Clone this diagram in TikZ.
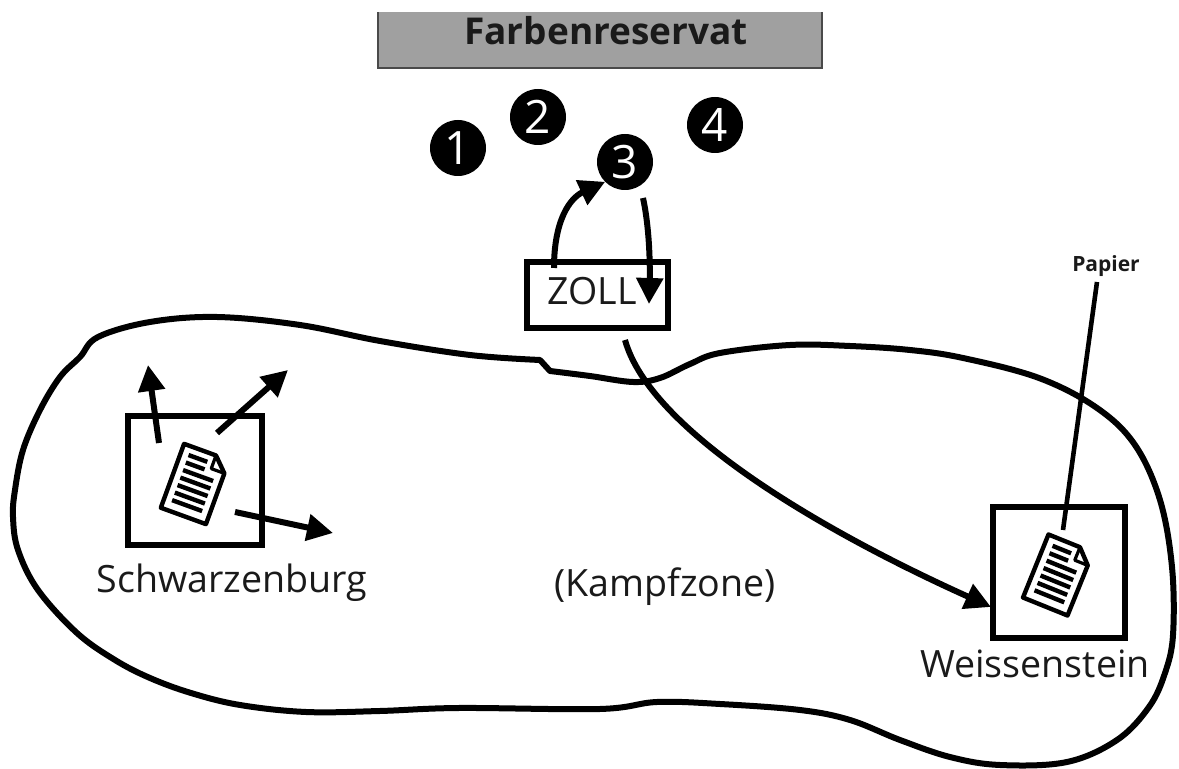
\documentclass[tikz,border=0pt]{standalone}
\usepackage{fontspec}
\setmainfont{Open Sans}
\usetikzlibrary{arrows.meta}
\definecolor{titlegray}{HTML}{A0A0A0}
\definecolor{titleedge}{HTML}{4A4A4A}
\definecolor{inktext}{HTML}{1A1A1A}
\begin{document}
\begin{tikzpicture}[x=0.5pt,y=-0.5pt,
  blob/.style={line width=3pt, line join=round, line cap=round},
  arr/.style={line width=3pt, -{Triangle[length=13pt,width=13pt]}},
  town/.style={draw, line width=3.2pt, inner sep=0pt, outer sep=0pt},
  lbl/.style={font=\fontsize{18.8}{20}\selectfont, anchor=base, inner sep=0pt, text=inktext},
  num/.style={circle, fill=black, minimum size=28pt, inner sep=0pt, outer sep=0pt, text=white, font=\fontsize{23}{24}\selectfont},
  doc/.pic={
    \begin{scope}[rotate=#1]
      \filldraw[fill=white, line width=2.2pt, line join=round] (-24,-34) -- (10,-34) -- (24,-20) -- (24,34) -- (-24,34) -- cycle;
      \draw[line width=1.6pt, line join=round] (10,-34) -- (10,-20) -- (24,-20);
      \foreach \yy in {-25,-17} \draw[line width=2.2pt] (-16,\yy) -- (4,\yy);
      \foreach \yy in {-9,-1,7,15,23} \draw[line width=2.2pt] (-16,\yy) -- (16,\yy);
    \end{scope}
  }
]
\useasboundingbox (0,0) rectangle (1179,769);

% outline of the zone
\draw[blob] plot[smooth, tension=0.6] coordinates {
  (550,371) (590,376) (633,382) (660,378) (690,364) (720,353) (790,345)
  (850,346) (910,350) (963,358) (1039,378) (1097,408) (1135,445) (1160,500)
  (1172,567) (1173,635) (1165,673) (1149,707) (1117,740) (1067,762) (1000,765)
  (950,757) (900,740) (850,720) (800,710) (720,704) (657,702) (600,709)
  (459,708) (380,711) (306,712) (240,705) (191,693) (150,678) (115,660)
  (77,633) (38,590) (18,550) (13,517) (15,490) (23,450) (40,410) (60,377)
  (80,357) (98,337) (150,322) (217,317) (300,325) (380,341) (470,355) (540,360)
} -- cycle;

% title bar
\node[fill=titlegray, minimum width=222pt, minimum height=28pt, inner sep=0pt, outer sep=0pt] (title) at (600,40) {};
\draw[line width=1pt, titleedge] (title.north west) -- (title.south west) -- (title.south east) -- (title.north east);
\node[font=\bfseries\fontsize{18.5}{20}\selectfont, anchor=base, inner sep=0pt, text=inktext] (titletext) at (606,45) {Farbenreservat};

% numbered circles
\node[num] (c1) at (458,148) {1};
\node[num] (c2) at (538,117) {2};
\node[num] (c3) at (625,162) {3};
\node[num] (c4) at (715,125) {4};

% ZOLL
\node[town, minimum width=70.5pt, minimum height=33pt] (zoll) at (597.5,295) {};
\node[lbl] (zolltext) at (592,305) {ZOLL};
\coordinate (zup) at (554,268);
\coordinate (zdownA) at (643,198);
\coordinate (zdownB) at (649,304);
\draw[arr] (zup) .. controls (554,220) and (570,198) .. (c3.south west);
\draw[arr] (zdownA) .. controls (650,230) and (650,270) .. (zdownB);

% Schwarzenburg
\node[town, minimum width=67pt, minimum height=64.5pt] (sbox) at (195,480.5) {};
\pic at (195,484) {doc=-20};
\node[lbl] (slabel) at (232,593) {Schwarzenburg};
\coordinate (sa1) at (159,443); \coordinate (sa1t) at (148,365);
\coordinate (sa2) at (217,433); \coordinate (sa2t) at (288,370);
\coordinate (sa3) at (235,512); \coordinate (sa3t) at (333,533);
\draw[arr] (sa1) -- (sa1t);
\draw[arr] (sa2) -- (sa2t);
\draw[arr] (sa3) -- (sa3t);

% Kampfzone
\node[lbl] (kampf) at (665,597) {(Kampfzone)};

% Weissenstein
\node[town, minimum width=66pt, minimum height=65.5pt] (wbox) at (1059,572.5) {};
\pic at (1058,575) {doc=-22};
\node[lbl] (wlabel) at (1035,678) {Weissenstein};

% Papier
\node[font=\bfseries\fontsize{10.5}{11}\selectfont, anchor=base, inner sep=0pt, text=inktext] (papier) at (1106,272) {Papier};
\coordinate (pa) at (1097,282);
\coordinate (pb) at (1063,530);
\draw[line width=2.3pt] (pa) -- (pb);

% ZOLL to Weissenstein
\coordinate (zout) at (625,340);
\coordinate (win) at (991,607);
\draw[arr] (zout) .. controls (650,430) and (820,530) .. (win);
\end{tikzpicture}
\end{document}
